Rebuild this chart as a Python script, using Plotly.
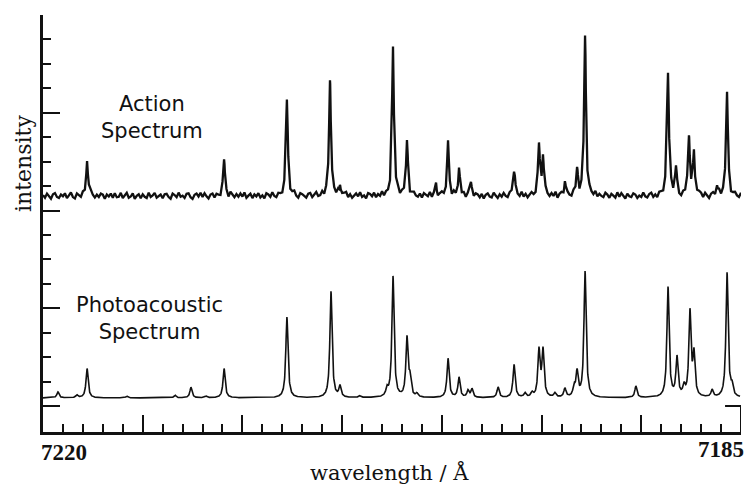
import numpy as np
import plotly.graph_objects as go

# ---------------- data ----------------
WL_START = 7220.0
WL_END = 7185.0
NOISE_STEP = 0.1  # Angstrom spacing of the action-spectrum baseline readings

ACTION_BASE = 8.6
ACTION_PEAK_WL = [7217.79, 7210.92, 7207.77, 7205.61, 7205.11, 7202.45, 7201.75,
                  7200.29, 7199.69, 7199.14, 7198.54, 7196.38, 7195.13, 7194.93,
                  7193.83, 7193.22, 7192.82, 7188.66, 7188.26, 7187.61, 7187.36,
                  7186.20, 7185.70]
ACTION_PEAK_H = [1.50, 1.55, 3.95, 4.85, 0.50, 6.15, 2.30,
                 0.45, 2.20, 1.00, 0.60, 1.10, 2.10, 1.50,
                 0.55, 1.00, 6.60, 5.10, 1.10, 2.45, 1.65,
                 0.38, 4.30]
# baseline fluctuation readings (hundredths of a tick unit), every 0.1 A from 7220
ACTION_NOISE = [
    3, -8, 9, -4, -12, 6, 11, -5, -9, 5,
    -2, 10, -10, 1, 13, -6, -12, 8, 0, -9,
    9, -5, -8, 6, 14, -1, -10, 3, -6, 8,
    4, -13, 5, -3, 9, -8, 10, -6, -4, 12,
    -9, 3, 12, -8, -3, 10, -13, 0, 6, -10,
    6, -4, -9, 13, -5, 1, 12, -8, -1, 5,
    -10, 6, 8, -5, -12, 9, 3, -6, 13, -4,
    0, -9, 8, 10, -6, -13, 4, 9, -3, 12,
    -5, 10, -3, -12, 4, 8, -9, 5, -1, -10,
    8, -6, 1, -12, 12, 3, -8, 6, -5, 9,
    -4, 13, -9, 0, 8, -10, 5, -3, 10, -8,
    1, -12, 9, 4, -6, 12, -4, -10, 6, 0,
    -8, 5, -1, 10, -9, 3, 13, -5, -12, 8,
    4, -3, -10, 6, 9, -8, 0, 12, -6, -4,
    10, -9, 5, -1, -13, 8, 3, -5, 9, -12,
    -3, 6, 12, -8, 4, -10, 1, 8, -4, 13,
    -6, 0, -12, 9, 5, -4, 10, -9, 3, -5,
    12, -8, 4, -3, -10, 13, -6, 1, 8, -9,
    5, -1, -6, 10, -12, 3, 9, -4, -8, 6,
    -10, 8, 0, -5, 12, -9, 4, 6, -13, 3,
    9, -4, -8, 5, 1, -12, 10, -3, -6, 12,
    -1, 8, -10, 4, 13, -5, -9, 6, 3, -8,
    6, -12, 3, 9, -4, -8, 12, 0, -10, 5,
    -5, 10, -3, -9, 8, 4, -12, 9, -1, -6,
    13, -6, 5, -10, 1, 9, -4, -8, 10, -3,
    -9, 4, 12, -1, -8, 6, -5, 13, -12, 3,
    8, -10, 1, 6, -4, -9, 10, -3, 5, -13,
    3, 9, -6, -12, 8, 0, -5, 12, -8, 4,
    -4, -8, 10, 3, -10, 6, -1, -9, 13, -5,
    10, 1, -12, 8, -3, -6, 9, 4, -10, 0,
    -6, 12, -4, -9, 5, 10, -8, 1, -12, 8,
    4, -5, 9, -10, -1, 13, -6, 3, 8, -9,
    -12, 6, 0, 10, -8, -4, 12, -5, 1, 9,
    5, -10, 8, -3, -13, 4, 9, -6, -1, 12,
    -8, 3, 10, -5, 6, -12, 1, 8, -4, -9,
    9,
]

PA_BASE = 0.33
PA_PEAK_WL = [7219.25, 7218.30, 7217.79, 7215.79, 7213.38, 7212.58, 7211.83, 7210.92,
              7207.77, 7205.56, 7205.11, 7204.11, 7202.75, 7202.45, 7201.75, 7201.60,
              7201.25, 7199.69, 7199.14, 7198.69, 7198.49, 7197.18, 7196.38, 7195.83,
              7195.48, 7195.13, 7194.93, 7194.33, 7193.83, 7193.37, 7193.22, 7192.82,
              7190.27, 7188.66, 7188.21, 7187.86, 7187.56, 7187.36, 7186.45, 7185.70,
              7185.45]
PA_PEAK_H = [0.24, 0.11, 1.20, 0.07, 0.11, 0.43, 0.07, 1.20,
             3.30, 4.35, 0.45, 0.07, 0.30, 4.95, 2.40, 0.70,
             0.14, 1.60, 0.82, 0.28, 0.35, 0.43, 1.35, 0.17,
             0.17, 1.90, 1.90, 0.17, 0.36, 0.38, 1.00, 5.15,
             0.47, 4.50, 1.60, 0.40, 3.45, 1.70, 0.30, 5.10,
             0.40]

Y_MAJOR = [0, 4, 8, 12, 16]
Y_MINOR = list(range(0, 17))
X_MAJOR = [7220, 7215, 7210, 7205, 7200, 7195, 7190, 7185]
X_MINOR = list(range(7185, 7221))
X_LABELS = ["7220", "7185"]


def lorentz(x, c, h, g):
    return h / (1.0 + ((x - c) / g) ** 2)


# ---- action spectrum: baseline readings + peak profiles ----
noise = np.array(ACTION_NOISE, dtype=float) / 100.0
grid = WL_START - NOISE_STEP * np.arange(len(noise))
extra = np.array([c + d for c in ACTION_PEAK_WL for d in (-0.04, 0.0, 0.04)])
xa = np.sort(np.concatenate([grid, extra]))[::-1]
idx = np.clip(np.round((WL_START - xa) / NOISE_STEP).astype(int), 0, len(noise) - 1)
ya = ACTION_BASE + noise[idx]
for c, h in zip(ACTION_PEAK_WL, ACTION_PEAK_H):
    ya = ya + lorentz(xa, c, h, 0.055)

# ---- photoacoustic spectrum ----
xp = np.linspace(WL_START, WL_END + 0.05, 3496)
yp = np.full_like(xp, PA_BASE)
for c, h in zip(PA_PEAK_WL, PA_PEAK_H):
    yp = yp + lorentz(xp, c, h, 0.065)

fig = go.Figure()
fig.add_trace(go.Scatter(x=xa, y=ya, mode="lines",
                         line=dict(color="#111111", width=2.3), hoverinfo="skip"))
fig.add_trace(go.Scatter(x=xp, y=yp, mode="lines",
                         line=dict(color="#111111", width=1.6), hoverinfo="skip"))

Y_BOTTOM = -1.064
fig.update_layout(
    width=746, height=488,
    margin=dict(l=43, r=5, t=15, b=56),
    paper_bgcolor="white", plot_bgcolor="white",
    showlegend=False,
    xaxis=dict(range=[WL_START, WL_END], showgrid=False, zeroline=False,
               showline=True, linecolor="#111111", linewidth=2.5,
               tickmode="array", tickvals=X_MAJOR, ticks="inside", ticklen=17,
               tickwidth=2, tickcolor="#111111", showticklabels=False,
               minor=dict(tickmode="array", tickvals=X_MINOR, ticks="inside",
                          ticklen=8, tickwidth=2, tickcolor="#111111")),
    yaxis=dict(range=[Y_BOTTOM, 16], showgrid=False, zeroline=False,
               showline=True, linecolor="#111111", linewidth=2.5,
               tickmode="array", tickvals=Y_MAJOR, ticks="inside", ticklen=17,
               tickwidth=2, tickcolor="#111111", showticklabels=False,
               minor=dict(tickmode="array", tickvals=Y_MINOR, ticks="inside",
                          ticklen=8, tickwidth=2, tickcolor="#111111")),
)

# small right-hand frame stub
fig.add_shape(type="line", xref="x", yref="y", x0=WL_END, x1=WL_END, y0=0, y1=Y_BOTTOM,
              line=dict(color="#111111", width=2))
fig.add_shape(type="line", xref="x", yref="y", x0=7185.8, x1=WL_END, y0=0, y1=0,
              line=dict(color="#111111", width=2))

sans = "DejaVu Sans"
serif = "DejaVu Serif"
fig.add_annotation(text="Action<br>Spectrum", xref="paper", yref="paper",
                   x=0.156, y=0.755, showarrow=False, xanchor="center", yanchor="middle",
                   font=dict(family=sans, size=21, color="#111111"))
fig.add_annotation(text="Photoacoustic<br>Spectrum", xref="paper", yref="paper",
                   x=0.153, y=0.271, showarrow=False, xanchor="center", yanchor="middle",
                   font=dict(family=sans, size=21, color="#111111"))
fig.add_annotation(text="intensity", xref="paper", yref="paper", textangle=-90,
                   x=-0.027, y=0.643, showarrow=False, xanchor="center", yanchor="middle",
                   font=dict(family=serif, size=22, color="#111111"))
fig.add_annotation(text="wavelength / Å", xref="paper", yref="paper",
                   x=0.497, y=-0.098, showarrow=False, xanchor="center", yanchor="middle",
                   font=dict(family=serif, size=21, color="#111111"))
fig.add_annotation(text="<b>%s</b>" % X_LABELS[0], xref="paper", yref="paper",
                   x=-0.006, y=-0.05, showarrow=False, xanchor="left", yanchor="middle",
                   font=dict(family="Liberation Serif", size=23, color="#111111"))
fig.add_annotation(text="<b>%s</b>" % X_LABELS[1], xref="paper", yref="paper",
                   x=1.007, y=-0.043, showarrow=False, xanchor="right", yanchor="middle",
                   font=dict(family="Liberation Serif", size=23, color="#111111"))

fig.write_html("out.html")
